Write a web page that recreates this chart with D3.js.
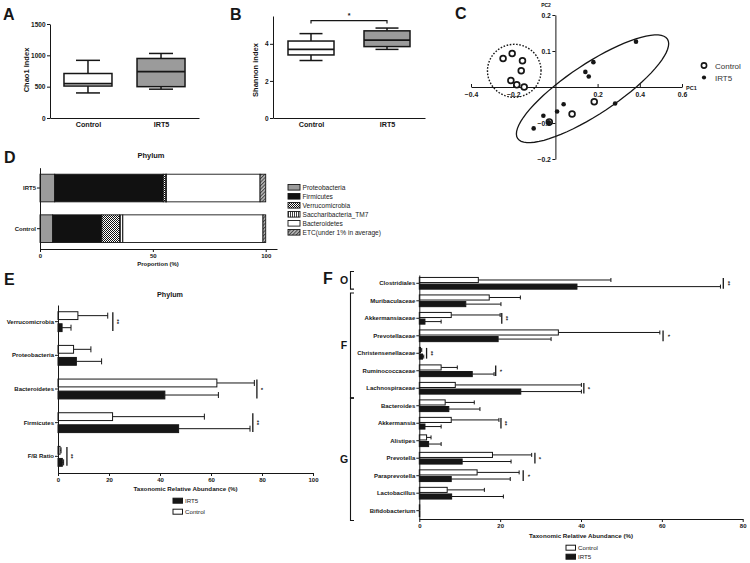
<!DOCTYPE html>
<html>
<head>
<meta charset="utf-8">
<script src="https://cdn.jsdelivr.net/npm/d3@7"></script>
<style>
body { margin: 0; background: #fff; }
svg { font-family: "Liberation Sans", Arial, sans-serif; }
</style>
</head>
<body>
<div id="container"></div>
<script>
// ---- data ----
let groups = ['Control', 'IRT5'];

// A: Chao1, [min, q1, median, q3, max]
let chao1Box = [[400, 510, 550, 710, 920], [460, 500, 740, 950, 1030]];
let chao1Ticks = [0, 500, 1000, 1500];

// B: Shannon
let shannonBox = [[3.1, 3.4, 3.7, 4.15, 4.55], [3.7, 3.85, 4.2, 4.7, 4.85]];
let shannonTicks = [0, 2, 4];
let shannonSig = '*';

// C: PCoA, [PC1, PC2]
let pcControl = [[-0.248, 0.079], [-0.205, 0.093], [-0.156, 0.073], [-0.162, 0.045], [-0.211, 0.018],
  [-0.183, 0.006], [-0.148, 0.000], [-0.029, -0.097], [0.079, -0.075], [0.184, -0.041]];
let pcIRT5 = [[-0.103, -0.115], [-0.057, -0.080], [-0.031, -0.098], [0.008, -0.068], [0.039, -0.048],
  [0.142, 0.042], [0.158, 0.029], [0.180, 0.069], [0.283, -0.046], [0.382, 0.126]];
let pcXTicks = [-0.4, -0.2, 0.2, 0.4, 0.6];
let pcYTicks = [0.2, 0.1, -0.1, -0.2];
// ellipses: centre and two half-axis vectors, in PC units
let ellControl = { c: [-0.195, 0.045], u: [0.127, 0], v: [0, 0.0736] };
let ellIRT5 = { c: [0.176, -0.005], u: [0.355, 0.138], v: [0.065, -0.058] };

// D: phylum proportions (%)
let phyla = ['Proteobacteria', 'Firmicutes', 'Verrucomicrobia', 'Saccharibacteria_TM7', 'Bacteroidetes', 'ETC(under 1% in average)'];
let propIRT5 = [6.5, 48.1, 1.1, 0.3, 41.5, 2.5];
let propControl = [5.6, 21.8, 7.8, 1.5, 62.1, 1.2];
let propTicks = [0, 50, 100];

// E: phylum abundance (%)
let eCats = ['Verrucomicrobia', 'Proteobacteria', 'Bacteroidetes', 'Firmicutes', 'F/B Ratio'];
let eControl = [7.8, 6.1, 62.3, 21.4, 0.8];
let eControlSd = [11.7, 6.8, 14.7, 36.0, 0.4];
let eIRT5 = [1.6, 7.2, 41.9, 47.3, 1.7];
let eIRT5Sd = [3.5, 9.9, 21.0, 28.0, 0.5];
let eSig = ['**', '', '*', '**', '**'];
let eSigAt = [21.5, 0, 78.0, 76.4, 3.5];

// F: order / family / genus abundance (%)
let fCats = ['Clostridiales', 'Muribaculaceae', 'Akkermansiaceae', 'Prevotellaceae', 'Christensenellaceae',
  'Ruminococcaceae', 'Lachnospiraceae', 'Bacteroides', 'Akkermansia', 'Alistipes', 'Prevotella',
  'Paraprevotella', 'Lactobacillus', 'Bifidobacterium'];
let fControl = [14.6, 17.3, 7.9, 34.4, 0.3, 5.4, 8.9, 6.4, 7.9, 1.8, 18.1, 14.3, 6.9, 0.1];
let fControlSd = [32.8, 7.7, 12.1, 25.1, 0.3, 4.0, 31.2, 7.2, 11.8, 1.1, 9.7, 10.4, 9.2, 0];
let fIRT5 = [39.0, 11.5, 1.4, 19.5, 0.8, 13.1, 25.1, 7.3, 1.4, 2.3, 10.6, 7.9, 8.0, 0.1];
let fIRT5Sd = [35.5, 8.7, 4.0, 13.1, 0.3, 5.4, 15.0, 7.7, 4.0, 3.1, 12.1, 14.6, 12.8, 0];
let fSig = ['**', '', '**', '*', '**', '*', '*', '', '**', '', '*', '*', '', ''];
let fSigAt = [75.2, 0, 20.4, 60.3, 1.8, 18.9, 40.7, 0, 20.2, 0, 28.6, 25.7, 0, 0];
let fLevels = [['O', 0, 0], ['F', 1, 6], ['G', 7, 13]];

// ---- drawing ----
let ink = '#161616';
let svg = d3.select('#container').append('svg').attr('width', 750).attr('height', 563);
svg.append('rect').attr('width', 750).attr('height', 563).attr('fill', '#fff');

function styleAxis(g, size) {
  g.attr('font-family', null).attr('font-size', null);
  g.selectAll('path, line').attr('stroke', ink).attr('stroke-width', 1);
  g.selectAll('text').attr('font-size', size).attr('font-weight', 'bold').attr('fill', ink);
  return g;
}

function label(x, y, txt, size, opts) {
  opts = opts || {};
  let t = svg.append('text').attr('x', x).attr('y', y).text(txt)
    .attr('font-size', size).attr('fill', opts.fill || ink)
    .attr('font-weight', opts.weight || 'bold')
    .attr('text-anchor', opts.anchor || 'start');
  if (opts.rotate) t.attr('transform', 'rotate(' + opts.rotate + ',' + x + ',' + y + ')');
  return t;
}

// panel letters
label(3, 20, 'A', 16);
label(230, 20, 'B', 16);
label(455, 19, 'C', 16);
label(4, 163, 'D', 16);
label(4, 285, 'E', 16);
label(323, 284, 'F', 16);

// ---- A and B: box plots ----
function boxPanel(o) {
  let x = d3.scalePoint().domain(groups).range([o.x0, o.x1]).padding(o.pad);
  let y = d3.scaleLinear().domain([0, o.max]).range([118, o.top]);
  styleAxis(svg.append('g').attr('transform', 'translate(' + o.x0 + ',0)')
    .call(d3.axisLeft(y).tickValues(o.ticks).tickFormat(d3.format('d'))
      .tickSize(3).tickPadding(1.5).tickSizeOuter(0)), '6.5px');
  styleAxis(svg.append('g').attr('transform', 'translate(0,118)')
    .call(d3.axisBottom(x).tickSize(0).tickPadding(4).tickSizeOuter(0)), '7.2px');

  let fills = ['#fff', '#9b9b9b'];
  groups.forEach((gName, i) => {
    let b = o.boxes[i], cx = x(gName), bw = o.boxW;
    let g = svg.append('g').attr('stroke', ink).attr('stroke-width', 1.5);
    g.append('line').attr('x1', cx).attr('x2', cx).attr('y1', y(b[4])).attr('y2', y(b[3]));
    g.append('line').attr('x1', cx).attr('x2', cx).attr('y1', y(b[1])).attr('y2', y(b[0]));
    [b[0], b[4]].forEach(v => g.append('line').attr('x1', cx - bw / 4).attr('x2', cx + bw / 4)
      .attr('y1', y(v)).attr('y2', y(v)));
    g.append('rect').attr('x', cx - bw / 2).attr('width', bw)
      .attr('y', y(b[3])).attr('height', y(b[1]) - y(b[3])).attr('fill', fills[i]);
    g.append('line').attr('x1', cx - bw / 2).attr('x2', cx + bw / 2)
      .attr('y1', y(b[2])).attr('y2', y(b[2])).attr('stroke-width', 1.8);
  });
  label(o.titleX, 70, o.title, '7.5px', { anchor: 'middle', rotate: -90 });
  return { x: x, y: y };
}

boxPanel({ x0: 50, x1: 199, pad: 0.52, top: 24, max: 1500, ticks: chao1Ticks, boxes: chao1Box, boxW: 48,
  title: 'Chao1 Index', titleX: 29 });
let sb = boxPanel({ x0: 273, x1: 425, pad: 0.5, top: 16, max: 5.5, ticks: shannonTicks, boxes: shannonBox, boxW: 46,
  title: 'Shannon index', titleX: 258 });
// significance bracket
let bx1 = sb.x('Control'), bx2 = sb.x('IRT5');
svg.append('path')
  .attr('d', 'M' + bx1 + ',' + sb.y(5.1) + 'V' + sb.y(5.25) + 'H' + bx2 + 'V' + sb.y(5.1))
  .attr('fill', 'none').attr('stroke', ink).attr('stroke-width', 1.2);
label((bx1 + bx2) / 2, sb.y(5.25) - 3, shannonSig, '7px', { anchor: 'middle' });

// ---- C: PCoA ----
let cx = d3.scaleLinear().domain([-0.4, 0.6]).range([471, 682]);
let cy = d3.scaleLinear().domain([-0.2, 0.2]).range([159, 15]);
let pcFmt = d3.format('.1f');
styleAxis(svg.append('g').attr('transform', 'translate(0,' + cy(0) + ')')
  .call(d3.axisBottom(cx).tickValues(pcXTicks).tickFormat(pcFmt)
    .tickSize(-3).tickPadding(5).tickSizeOuter(0)), '6.8px');
styleAxis(svg.append('g').attr('transform', 'translate(' + cx(0) + ',0)')
  .call(d3.axisLeft(cy).tickValues(pcYTicks).tickFormat(pcFmt)
    .tickSize(3).tickPadding(1.5).tickSizeOuter(0)), '6.8px');
label(546, 7, 'PC2', '5px', { anchor: 'middle' });
label(686, 90, 'PC1', '5.5px');

let ellLine = d3.line().x(p => cx(p[0])).y(p => cy(p[1])).curve(d3.curveLinearClosed);
function ellPoints(e) {
  return d3.range(0, 72).map(k => {
    let t = k / 72 * 2 * Math.PI;
    return [e.c[0] + Math.cos(t) * e.u[0] + Math.sin(t) * e.v[0],
            e.c[1] + Math.cos(t) * e.u[1] + Math.sin(t) * e.v[1]];
  });
}
svg.append('path').attr('d', ellLine(ellPoints(ellControl))).attr('fill', 'none')
  .attr('stroke', ink).attr('stroke-width', 1.4).attr('stroke-dasharray', '1.6,1.6');
svg.append('path').attr('d', ellLine(ellPoints(ellIRT5))).attr('fill', 'none')
  .attr('stroke', ink).attr('stroke-width', 1.3);

svg.selectAll('.ptC').data(pcControl).enter().append('circle')
  .attr('cx', d => cx(d[0])).attr('cy', d => cy(d[1])).attr('r', 2.9)
  .attr('fill', '#fff').attr('stroke', ink).attr('stroke-width', 1.7);
svg.selectAll('.ptI').data(pcIRT5).enter().append('circle')
  .attr('cx', d => cx(d[0])).attr('cy', d => cy(d[1])).attr('r', 2.3).attr('fill', ink);

svg.append('circle').attr('cx', 704).attr('cy', 65.5).attr('r', 2.6)
  .attr('fill', '#fff').attr('stroke', ink).attr('stroke-width', 1.6);
svg.append('circle').attr('cx', 704).attr('cy', 77.5).attr('r', 2.1).attr('fill', ink);
label(715, 68.5, 'Control', '8px', { weight: 'normal', fill: '#333' });
label(715, 80.5, 'IRT5', '8px', { weight: 'normal', fill: '#333' });

// ---- D: stacked proportion bars ----
let defs = svg.append('defs');
let pChk = defs.append('pattern').attr('id', 'chk').attr('width', 2).attr('height', 2)
  .attr('patternUnits', 'userSpaceOnUse');
pChk.append('rect').attr('width', 2).attr('height', 2).attr('fill', '#fff');
pChk.append('rect').attr('width', 1).attr('height', 1).attr('fill', '#111');
pChk.append('rect').attr('x', 1).attr('y', 1).attr('width', 1).attr('height', 1).attr('fill', '#111');
let pVl = defs.append('pattern').attr('id', 'vl').attr('width', 2).attr('height', 4)
  .attr('patternUnits', 'userSpaceOnUse');
pVl.append('rect').attr('width', 2).attr('height', 4).attr('fill', '#fff');
pVl.append('rect').attr('width', 0.8).attr('height', 4).attr('fill', '#111');
let pDg = defs.append('pattern').attr('id', 'dg').attr('width', 2.5).attr('height', 2.5)
  .attr('patternUnits', 'userSpaceOnUse').attr('patternTransform', 'rotate(45)');
pDg.append('rect').attr('width', 2.5).attr('height', 2.5).attr('fill', '#bbb');
pDg.append('rect').attr('width', 1).attr('height', 2.5).attr('fill', '#444');
let phylaFill = ['#9b9b9b', '#111', 'url(#chk)', 'url(#vl)', '#fff', 'url(#dg)'];

let dRows = ['IRT5', 'Control'];
let dTable = [propIRT5, propControl].map((vals, r) => {
  let row = { cat: dRows[r] };
  phyla.forEach((p, i) => row[p] = vals[i]);
  return row;
});
let dx = d3.scaleLinear().domain([0, 105]).range([40, 277]);
let dy = d3.scaleBand().domain(dRows).range([167.7, 249]).paddingInner(0.32).paddingOuter(0.16);
let dStack = d3.stack().keys(phyla)(dTable);
svg.append('g').selectAll('g').data(dStack).enter().append('g')
  .attr('fill', (d, i) => phylaFill[i])
  .selectAll('rect').data(d => d).enter().append('rect')
  .attr('x', d => dx(d[0])).attr('width', d => dx(d[1]) - dx(d[0]))
  .attr('y', d => dy(d.data.cat)).attr('height', dy.bandwidth())
  .attr('stroke', ink).attr('stroke-width', 0.9);
styleAxis(svg.append('g').attr('transform', 'translate(0,249)')
  .call(d3.axisBottom(dx).tickValues(propTicks).tickSize(3).tickPadding(1.5).tickSizeOuter(0)), '6px');
styleAxis(svg.append('g').attr('transform', 'translate(40,0)')
  .call(d3.axisLeft(dy).tickSize(3).tickPadding(1).tickSizeOuter(0)), '6px');
label(158, 266, 'Proportion (%)', '6px', { anchor: 'middle' });
label(151, 158, 'Phylum', '7.5px', { anchor: 'middle' });

phyla.forEach((p, i) => {
  let yy = 187.3 + i * 9;
  svg.append('rect').attr('x', 288).attr('y', yy - 2.8).attr('width', 12).attr('height', 5.6)
    .attr('fill', phylaFill[i]).attr('stroke', ink).attr('stroke-width', 0.9);
  label(302.5, yy + 2.3, p, '6.6px', { weight: 'normal', fill: '#222' });
});

// ---- E and F: horizontal grouped bars ----
function hbarPanel(o) {
  let x = d3.scaleLinear().domain([0, o.max]).range([o.x0, o.x1]);
  let y = d3.scaleBand().domain(o.cats).range([o.y0, o.y1]).paddingInner(o.pi).paddingOuter(o.po);
  let sub = d3.scaleBand().domain(groups).range([0, y.bandwidth()]).paddingInner(o.subPad);
  let bh = sub.bandwidth();
  let series = [
    { key: 'Control', mean: o.ctrl, sd: o.ctrlSd, fill: '#fff' },
    { key: 'IRT5', mean: o.irt, sd: o.irtSd, fill: ink }];
  let g = svg.append('g');
  series.forEach(s => {
    let rows = o.cats.map((c, i) => ({ c: c, m: s.mean[i], sd: s.sd[i] }));
    let top = d => y(d.c) + sub(s.key);
    let eb = g.append('g').attr('stroke', ink).attr('stroke-width', 1);
    eb.selectAll('.e').data(rows.filter(d => d.sd > 0)).enter().append('line')
      .attr('x1', d => x(d.m)).attr('x2', d => x(d.m + d.sd))
      .attr('y1', d => top(d) + bh / 2).attr('y2', d => top(d) + bh / 2);
    eb.selectAll('.c').data(rows.filter(d => d.sd > 0)).enter().append('line')
      .attr('x1', d => x(d.m + d.sd)).attr('x2', d => x(d.m + d.sd))
      .attr('y1', d => top(d) + bh / 2 - o.cap / 2).attr('y2', d => top(d) + bh / 2 + o.cap / 2);
    g.selectAll('.b' + s.key).data(rows).enter().append('rect')
      .attr('x', x(0)).attr('width', d => x(d.m) - x(0))
      .attr('y', top).attr('height', bh)
      .attr('fill', s.fill).attr('stroke', ink).attr('stroke-width', 1);
  });
  // significance marks
  let sig = o.cats.map((c, i) => ({ c: c, s: o.sig[i], at: o.sigAt[i] })).filter(d => d.s);
  g.selectAll('.sl').data(sig).enter().append('line')
    .attr('x1', d => x(d.at)).attr('x2', d => x(d.at))
    .attr('y1', d => y(d.c) + 0.5).attr('y2', d => y(d.c) + y.bandwidth() - 0.5)
    .attr('stroke', ink).attr('stroke-width', 1.3);
  g.selectAll('.st').data(sig).enter().append('text')
    .attr('transform', d => 'translate(' + (x(d.at) + 2.5) + ',' + (y(d.c) + y.bandwidth() / 2) + ') rotate(90)')
    .attr('text-anchor', 'middle').attr('font-size', '6px').attr('font-weight', 'bold').attr('fill', ink)
    .text(d => d.s);

  styleAxis(svg.append('g').attr('transform', 'translate(0,' + o.y1 + ')')
    .call(d3.axisBottom(x).tickValues(o.ticks).tickSize(3).tickPadding(1.5).tickSizeOuter(0)), '6px');
  styleAxis(svg.append('g').attr('transform', 'translate(' + o.x0 + ',0)')
    .call(d3.axisLeft(y).tickSize(3).tickPadding(1).tickSizeOuter(0)), '6px');
  label((o.x0 + o.x1) / 2, o.y1 + o.titleDy, 'Taxonomic Relative Abundance  (%)', '6.2px', { anchor: 'middle' });

  // legend
  o.legend.forEach((k, i) => {
    let yy = o.legY + i * o.legStep;
    svg.append('rect').attr('x', o.legX).attr('y', yy - 2.5).attr('width', 9.5).attr('height', 5)
      .attr('fill', k === 'IRT5' ? ink : '#fff').attr('stroke', ink).attr('stroke-width', 1);
    label(o.legX + 12, yy + 2.2, k, '6.2px', { weight: 'normal', fill: '#222' });
  });
  return { x: x, y: y };
}

hbarPanel({ cats: eCats, ctrl: eControl, ctrlSd: eControlSd, irt: eIRT5, irtSd: eIRT5Sd,
  sig: eSig, sigAt: eSigAt, max: 100, ticks: d3.range(0, 101, 20),
  x0: 58, x1: 313, y0: 305, y1: 473, pi: 0.41, po: 0.2, subPad: 0.35, cap: 6,
  titleDy: 17.5, legend: ['IRT5', 'Control'], legX: 173, legY: 500.7, legStep: 11 });
label(170, 297, 'Phylum', '7.2px', { anchor: 'middle' });

let fp = hbarPanel({ cats: fCats, ctrl: fControl, ctrlSd: fControlSd, irt: fIRT5, irtSd: fIRT5Sd,
  sig: fSig, sigAt: fSigAt, max: 80, ticks: d3.range(0, 81, 20),
  x0: 419.3, x1: 742.7, y0: 275, y1: 519, pi: 0.33, po: 0.14, subPad: 0.23, cap: 4,
  titleDy: 19, legend: ['Control', 'IRT5'], legX: 566, legY: 547.7, legStep: 9 });

// taxonomic level brackets
fLevels.forEach((lv, i) => {
  let yTop = fp.y(fCats[lv[1]]) - (i === 0 ? 6 : 2);
  let yBot = fp.y(fCats[lv[2]]) + fp.y.bandwidth() + (i === 0 ? 0 : 4);
  svg.append('path').attr('d', 'M354,' + yTop + 'H350.5V' + yBot + 'H354')
    .attr('fill', 'none').attr('stroke', ink).attr('stroke-width', 1.1);
  label(344, (yTop + yBot) / 2 + 3.8, lv[0], '10.5px', { anchor: 'middle' });
});
</script>
</body>
</html>
